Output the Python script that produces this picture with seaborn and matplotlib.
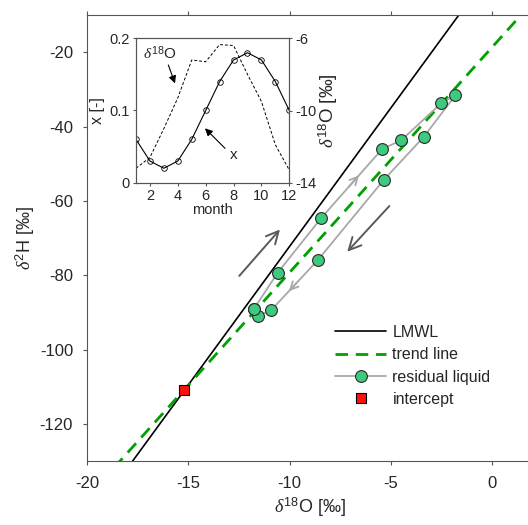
import numpy as np
import pandas as pd
import matplotlib
matplotlib.use("Agg")
import matplotlib.pyplot as plt
import seaborn as sns
from matplotlib.lines import Line2D

# ---------------- data ----------------
resid_d18O = [-11.77, -10.58, -8.43, -5.43, -4.48, -2.50, -1.81, -3.37, -5.35, -8.61, -10.90, -11.56]
resid_d2H = [-89.2, -79.3, -64.6, -46.1, -43.7, -33.7, -31.6, -42.8, -54.4, -76.0, -89.4, -91.0]
lmwl_slope, lmwl_icpt = 7.45, 2.2
trend_slope, trend_icpt = 6.06, -18.7
line_d18O = [-20.0, 2.0]
intercept_d18O = [-15.21]
intercept_d2H = [-111.0]

months = list(range(1, 13))
x_frac = [0.06, 0.03, 0.02, 0.03, 0.06, 0.10, 0.14, 0.17, 0.18, 0.17, 0.14, 0.10]
precip_d18O = [-13.2, -12.6, -11.0, -9.3, -7.2, -7.3, -6.35, -6.4, -8.0, -9.5, -11.9, -13.3]

x_ticks = [-20, -15, -10, -5, 0]
y_ticks = [-120, -100, -80, -60, -40, -20]

# ---------------- style ----------------
sns.set_style("ticks")
plt.rcParams["font.family"] = ["Liberation Sans", "DejaVu Sans"]
plt.rcParams["mathtext.fontset"] = "custom"
plt.rcParams["mathtext.rm"] = "Liberation Sans"
plt.rcParams["mathtext.it"] = "Liberation Serif:italic"
plt.rcParams["mathtext.bf"] = "Liberation Sans:bold"
AX_COL = "#555555"
TXT_COL = "#262626"
plt.rcParams.update({
    "axes.edgecolor": AX_COL, "xtick.color": AX_COL, "ytick.color": AX_COL,
    "xtick.labelcolor": TXT_COL, "ytick.labelcolor": TXT_COL,
    "axes.labelcolor": TXT_COL, "text.color": TXT_COL,
    "axes.linewidth": 0.8, "xtick.major.width": 0.8, "ytick.major.width": 0.8,
    "xtick.major.size": 3, "ytick.major.size": 3,
})

fig = plt.figure(figsize=(5.28, 5.25), dpi=100)
ax = fig.add_axes([87 / 528, 1 - 461 / 525, 445.5 / 528, 446 / 525])

GREEN = "#3DC97E"
GRAY = "#A8A8A8"

# LMWL and trend lines
lx = np.array(line_d18O)
sns.lineplot(x=lx, y=lmwl_slope * lx + lmwl_icpt, ax=ax, color="black", lw=1.2, sort=False, estimator=None)
sns.lineplot(x=lx, y=trend_slope * lx + trend_icpt, ax=ax, color="#00A000", lw=2.0, sort=False,
             estimator=None, dashes=False, linestyle=(0, (4.5, 2.8)))

# residual liquid loop
loop = pd.DataFrame({"d18O": resid_d18O + resid_d18O[:1], "d2H": resid_d2H + resid_d2H[:1]})
sns.lineplot(data=loop, x="d18O", y="d2H", ax=ax, sort=False, estimator=None, color=GRAY, lw=1.3,
             marker="o", markersize=8.5, markerfacecolor=GREEN, markeredgecolor="#2a2a2a",
             markeredgewidth=0.8, zorder=4)

# small arrowheads along the loop
for i0, i1 in [(2, 3), (9, 10)]:
    xa, ya = resid_d18O[i0], resid_d2H[i0]
    xb, yb = resid_d18O[i1], resid_d2H[i1]
    p0 = (xa + 0.45 * (xb - xa), ya + 0.45 * (yb - ya))
    p1 = (xa + 0.62 * (xb - xa), ya + 0.62 * (yb - ya))
    ax.annotate("", xy=p1, xytext=p0,
                arrowprops=dict(arrowstyle="->", color=GRAY, lw=1.3, mutation_scale=14,
                                shrinkA=0, shrinkB=0), zorder=3)

# big direction arrows
ax.annotate("", xy=(-10.47, -67.7), xytext=(-12.48, -80.2),
            arrowprops=dict(arrowstyle="->", color="#5a5a5a", lw=1.4, mutation_scale=22,
                            shrinkA=0, shrinkB=0))
ax.annotate("", xy=(-7.15, -73.7), xytext=(-5.07, -61.4),
            arrowprops=dict(arrowstyle="->", color="#5a5a5a", lw=1.4, mutation_scale=22,
                            shrinkA=0, shrinkB=0))

# intercept
ax.plot(intercept_d18O, intercept_d2H, ls="none", marker="s", markersize=6.5,
        markerfacecolor="#FF1010", markeredgecolor="black", markeredgewidth=0.8, zorder=5)

ax.set_xlim(-20, 2)
ax.set_ylim(-130, -10)
ax.set_xticks(x_ticks)
ax.set_yticks(y_ticks)
ax.tick_params(labelsize=12, direction="out", top=True, right=False)
ax.tick_params(axis="y", pad=7)
ax.tick_params(axis="x", pad=8)
ax.set_xticklabels([str(t) for t in x_ticks])
ax.set_yticklabels([str(t) for t in y_ticks])
for s in ["top", "left", "bottom"]:
    ax.spines[s].set_visible(True)
ax.spines["right"].set_visible(False)
ax.set_xlabel(r"$\mathit{\delta}^{18}$O [‰]", fontsize=13, labelpad=3)
ax.set_ylabel(r"$\mathit{\delta}^{2}$H [‰]", fontsize=13, labelpad=2)

handles = [
    Line2D([], [], color="black", lw=1.2),
    Line2D([], [], color="#00A000", lw=2.0, linestyle=(0, (4.5, 2.8))),
    Line2D([], [], color=GRAY, lw=1.3, marker="o", markersize=8.5, markerfacecolor=GREEN,
           markeredgecolor="#2a2a2a", markeredgewidth=0.8),
    Line2D([], [], ls="none", marker="s", markersize=6.5, markerfacecolor="#FF1010",
           markeredgecolor="black", markeredgewidth=0.8),
]
labels = ["LMWL", "trend line", "residual liquid", "intercept"]
ax.legend(handles, labels, loc="upper left", bbox_to_anchor=((335 - 87) / 445.5, (461 - 325) / 446),
          frameon=False, fontsize=11.5, handlelength=3.2, handletextpad=0.4, labelspacing=0.46,
          borderpad=0, borderaxespad=0)

# ---------------- inset ----------------
axi = fig.add_axes([136 / 528, 1 - 182.7 / 525, 153.3 / 528, 144.4 / 525])
axi.set_facecolor("white")
sns.lineplot(x=months, y=x_frac, ax=axi, color="black", lw=0.8, marker="o", markersize=4,
             markerfacecolor="none", markeredgecolor="black", markeredgewidth=0.6,
             sort=False, estimator=None)
axi.set_xlim(1, 12)
axi.set_ylim(0, 0.2)
axi.set_xticks([2, 4, 6, 8, 10, 12])
axi.set_yticks([0, 0.1, 0.2])
axi.set_yticklabels(["0", "0.1", "0.2"])
axi.tick_params(labelsize=10.5, direction="out", length=2.5, pad=2)
axi.set_xlabel("month", fontsize=10.5, labelpad=0)
axi.set_ylabel("x [-]", fontsize=11.5, labelpad=3)
for s in axi.spines.values():
    s.set_visible(True)

axr = axi.twinx()
sns.lineplot(x=months, y=precip_d18O, ax=axr, color="black", lw=0.7, sort=False, estimator=None,
             linestyle=(0, (3, 2)))
axr.set_ylim(-14, -6)
axr.set_yticks([-14, -10, -6])
axr.set_yticklabels(["-14", "-10", "-6"])
axr.tick_params(labelsize=10.5, direction="out", length=2.5, pad=2)
axr.set_ylabel(r"$\mathit{\delta}^{18}$O [‰]", fontsize=13.5, labelpad=0)
for s in axr.spines.values():
    s.set_visible(True)

axi.text(1.5, 0.179, r"$\mathit{\delta}^{18}$O", fontsize=11, va="center", ha="left")
axi.annotate("", xy=(3.80, 0.1376), xytext=(3.32, 0.163),
             arrowprops=dict(arrowstyle="-|>", color="black", lw=0.8, mutation_scale=11,
                             shrinkA=0, shrinkB=0))
axi.text(7.99, 0.038, "x", fontsize=11, va="center", ha="center")
axi.annotate("", xy=(5.95, 0.0753), xytext=(7.39, 0.0476),
             arrowprops=dict(arrowstyle="-|>", color="black", lw=0.8, mutation_scale=11,
                             shrinkA=0, shrinkB=0))

fig.savefig("out.png", dpi=100)
